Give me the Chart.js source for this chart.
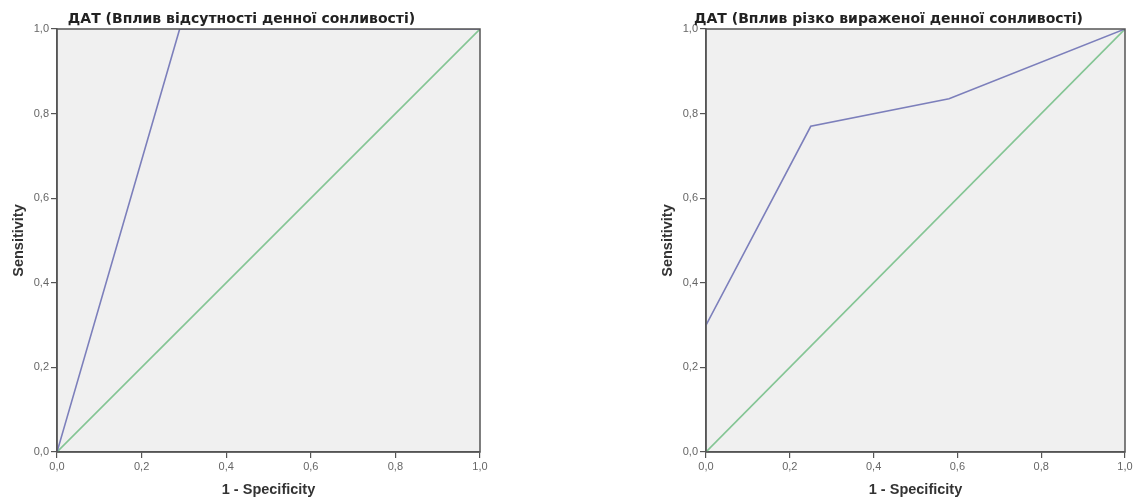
<!DOCTYPE html>
<html>
<head>
<meta charset="utf-8">
<script src="https://cdn.jsdelivr.net/npm/chart.js@4.4.1/dist/chart.umd.min.js"></script>
<style>
  body { margin: 0; background: #fff; width: 1138px; height: 501px; overflow: hidden; }
  .box { position: absolute; top: 0; height: 501px; }
  #left { left: 0; width: 500px; }
  #right { left: 649px; width: 489px; }
</style>
</head>
<body>
<div class="box" id="left"><canvas id="rocLeft"></canvas></div>
<div class="box" id="right"><canvas id="rocRight"></canvas></div>
<script>
// ROC curves
const leftTitle = "ДАТ (Вплив відсутності денної сонливості)";
const rightTitle = "ДАТ (Вплив різко вираженої денної сонливості)";

const leftFpr = [0, 0.29, 1];
const leftTpr = [0, 1, 1];

const rightFpr = [0, 0.25, 0.58, 1];
const rightTpr = [0.3, 0.77, 0.835, 1];

const refFpr = [0, 1];
const refTpr = [0, 1];

const tickValues = [0, 0.2, 0.4, 0.6, 0.8, 1];

function toPoints(xs, ys)
{
  return xs.map((x, i) => ({ x: x, y: ys[i] }));
}

function fmt(v)
{
  return v.toFixed(1).replace(".", ",");
}

const frame = {
  id: "frame",
  beforeDraw(chart)
  {
    let a = chart.chartArea;
    let ctx = chart.ctx;
    ctx.save();
    ctx.fillStyle = "#f0f0f0";
    ctx.fillRect(a.left, a.top, a.right - a.left, a.bottom - a.top);
    ctx.restore();
  },
  afterDatasetsDraw(chart)
  {
    let a = chart.chartArea;
    let ctx = chart.ctx;
    ctx.save();
    ctx.strokeStyle = "#555";
    ctx.lineWidth = 1.5;
    ctx.strokeRect(a.left, a.top, a.right - a.left, a.bottom - a.top);
    ctx.restore();
  },
  afterDraw(chart)
  {
    let a = chart.chartArea;
    let ctx = chart.ctx;
    ctx.save();
    ctx.font = "bold 14px 'DejaVu Sans', sans-serif";
    ctx.fillStyle = "#222";
    ctx.textAlign = "center";
    ctx.textBaseline = "middle";
    ctx.fillText(chart.options.plugins.frame.text, (a.left + a.right) / 2 - 27, 19);
    ctx.restore();
  }
};

function makeAxis(title, isX)
{
  return {
    type: "linear",
    min: 0,
    max: 1,
    afterBuildTicks: scale => { scale.ticks = tickValues.map(v => ({ value: v })); },
    afterFit: scale => { if (isX) scale.height = 49; else scale.width = 57; },
    grid: { display: true, drawOnChartArea: false, drawTicks: true, tickLength: 6, color: "#555", lineWidth: 1.2 },
    border: { display: true, color: "#555", width: 1.5 },
    ticks: {
      padding: 2,
      color: "#666",
      font: { family: "'Liberation Sans', Arial, sans-serif", size: 11 },
      callback: v => fmt(v),
      maxRotation: 0
    },
    title: {
      display: true,
      text: title,
      color: "#333",
      font: { family: "'Liberation Sans', Arial, sans-serif", size: 14.5, weight: "bold" },
      padding: isX ? { top: 0, bottom: 2 } : { top: 10, bottom: 0 }
    }
  };
}

function makeRoc(canvas, title, fpr, tpr, padRight)
{
  return new Chart(canvas, {
    type: "scatter",
    data: {
      datasets: [
        {
          data: toPoints(fpr, tpr),
          showLine: true,
          borderColor: "#7c7fbb",
          borderWidth: 1.6,
          pointRadius: 0,
          fill: false
        },
        {
          data: toPoints(refFpr, refTpr),
          showLine: true,
          borderColor: "#84c594",
          borderWidth: 1.6,
          pointRadius: 0,
          fill: false
        }
      ]
    },
    options: {
      responsive: true,
      maintainAspectRatio: false,
      animation: false,
      layout: { padding: { top: 29, right: padRight, left: 0, bottom: 0 } },
      plugins: {
        legend: { display: false },
        tooltip: { enabled: false },
        frame: { text: title }
      },
      scales: {
        x: makeAxis("1 - Specificity", true),
        y: makeAxis("Sensitivity", false)
      }
    },
    plugins: [frame]
  });
}

makeRoc(document.querySelector("#rocLeft"), leftTitle, leftFpr, leftTpr, 20);
makeRoc(document.querySelector("#rocRight"), rightTitle, rightFpr, rightTpr, 13);
</script>
</body>
</html>
